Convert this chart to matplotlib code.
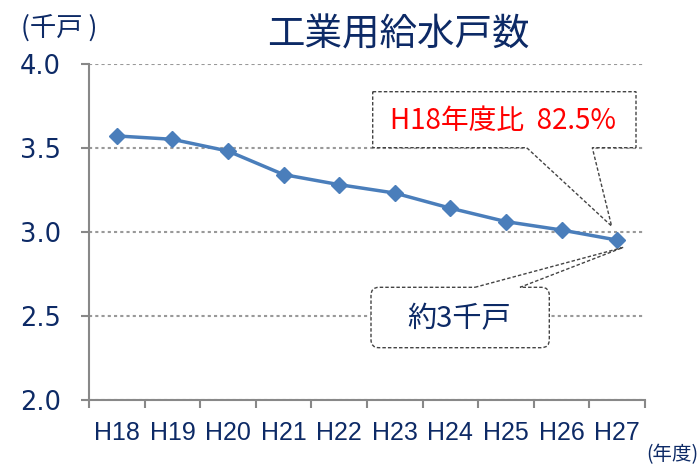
import matplotlib.pyplot as plt
import matplotlib.path as mpath
import matplotlib.patches as mpatches
from matplotlib.transforms import IdentityTransform

years = ["H18", "H19", "H20", "H21", "H22", "H23", "H24", "H25", "H26", "H27"]
households = [3.57, 3.55, 3.48, 3.34, 3.28, 3.23, 3.14, 3.06, 3.01, 2.95]
yticks = [2.0, 2.5, 3.0, 3.5, 4.0]

navy = "#0d2a66"
blue = "#4a7ebb"
cjk = ["Noto Sans CJK JP", "DejaVu Sans"]

W, H = 698, 466
fig = plt.figure(figsize=(W / 100, H / 100), dpi=100)
ax = fig.add_axes([89 / W, 1 - 399.7 / H, (645 - 89) / W, (399.7 - 63.7) / H])

x = list(range(len(years)))
ax.plot(x, households, color=blue, lw=2.5, marker="D", ms=8, zorder=3)

ax.set_xlim(-0.5, len(years) - 0.5)
ax.set_ylim(2.0, 4.0)
ax.set_yticks(yticks)
ax.set_yticklabels([f"{v:.1f}" for v in yticks], fontsize=18.5, color=navy,
                   family="DejaVu Sans")
ax.set_xticks(x)
ax.set_xticklabels(years, fontsize=18, color=navy,
                   family=["Liberation Sans Narrow", "Liberation Sans"])
ax.set_xticks([i - 0.5 for i in range(len(years) + 1)], minor=True)
ax.tick_params(axis="x", which="major", length=0, pad=15)
ax.tick_params(axis="x", which="minor", length=6, width=1.5, color="#888888")
ax.tick_params(axis="y", length=6, width=1.5, color="#888888", pad=14)
ax.grid(axis="y", ls=(0, (1.5, 1.5)), color="#999999", lw=1.5)
ax.set_axisbelow(True)
for s in ["top", "right"]:
    ax.spines[s].set_visible(False)
for s in ["left", "bottom"]:
    ax.spines[s].set_color("#888888")
    ax.spines[s].set_linewidth(1.5)

fig.text(398 / W, 1 - 35 / H, "工業用給水戸数", fontsize=27, color=navy,
         family=cjk, ha="center", va="center")
fig.text(21 / W, 1 - 28 / H, "(千戸 )", fontsize=19, color=navy,
         family=cjk, ha="left", va="center")
fig.text(698 / W, 1 - 455 / H, "(年度)", fontsize=14, color=navy,
         family=cjk, ha="right", va="center")

# callouts, pointer tips placed next to the last point
fig.canvas.draw()
px, py = ax.transData.transform((x[-1], households[-1]))


def disp(xx, yy):
    return (xx, H - yy)


# upper callout
top, bot, left, right = 91.7, 147.7, 372.7, 636
verts = [disp(left, top), disp(right, top), disp(right, bot), disp(592.3, bot),
         (px - 5.6, py + 14), disp(526.7, bot), disp(left, bot), disp(left, top)]
box1 = mpatches.Polygon(verts, closed=True, transform=IdentityTransform(),
                        facecolor="white", edgecolor="#444444", lw=1,
                        ls=(0, (2.5, 1.5)), zorder=4)
fig.add_artist(box1)
fig.text(503 / W, 1 - 121 / H, "H18年度比  82.5%", fontsize=20,
         color="red", family=cjk, ha="center", va="center", zorder=5)

# lower callout with rounded corners
top, bot, left, right, r = 287.3, 347.7, 371, 549.3, 8
P = mpath.Path
pts = [(475, top), None, (520, top), (right - r, top), (right, top), (right, top + r),
       (right, bot - r), (right, bot), (right - r, bot), (left + r, bot), (left, bot),
       (left, bot - r), (left, top + r), (left, top), (left + r, top), (475, top)]
codes = [P.MOVETO, P.LINETO, P.LINETO, P.LINETO, P.CURVE3, P.CURVE3,
         P.LINETO, P.CURVE3, P.CURVE3, P.LINETO, P.CURVE3, P.CURVE3,
         P.LINETO, P.CURVE3, P.CURVE3, P.CLOSEPOLY]
v2 = []
for p in pts:
    if p is None:
        v2.append((px + 6, py - 7.3))
    else:
        v2.append(disp(*p))
box2 = mpatches.PathPatch(P(v2, codes), transform=IdentityTransform(),
                          facecolor="white", edgecolor="#444444", lw=1,
                          ls=(0, (2.5, 1.5)), zorder=4)
fig.add_artist(box2)
fig.text(459 / W, 1 - 319 / H, "約3千戸", fontsize=21,
         color=navy, family=cjk, ha="center", va="center", zorder=5)

fig.savefig("out.png", dpi=100)
